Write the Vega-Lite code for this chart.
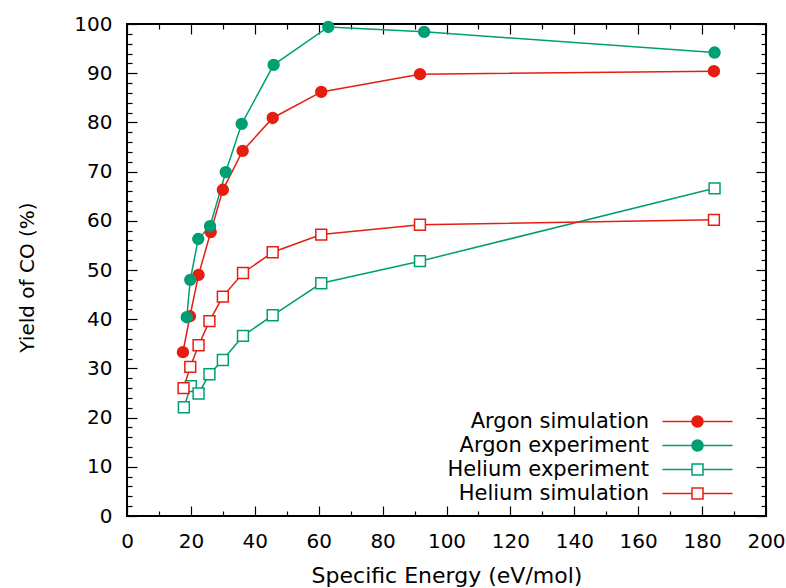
{
  "$schema": "https://vega.github.io/schema/vega-lite/v6.json",
  "width": 639,
  "height": 492,
  "autosize": "none",
  "padding": {"left": 127, "top": 24, "right": 20, "bottom": 72},
  "background": "#ffffff",
  "data": {
    "values": [
      {"series": "Argon simulation", "energy": 17.5, "yield": 33.3},
      {"series": "Argon simulation", "energy": 19.7, "yield": 40.6},
      {"series": "Argon simulation", "energy": 22.4, "yield": 49.0},
      {"series": "Argon simulation", "energy": 26.2, "yield": 57.7},
      {"series": "Argon simulation", "energy": 30.0, "yield": 66.3},
      {"series": "Argon simulation", "energy": 36.2, "yield": 74.2},
      {"series": "Argon simulation", "energy": 45.6, "yield": 80.9},
      {"series": "Argon simulation", "energy": 60.8, "yield": 86.2},
      {"series": "Argon simulation", "energy": 91.7, "yield": 89.8},
      {"series": "Argon simulation", "energy": 183.7, "yield": 90.4},
      {"series": "Argon experiment", "energy": 18.7, "yield": 40.4},
      {"series": "Argon experiment", "energy": 19.8, "yield": 48.0},
      {"series": "Argon experiment", "energy": 22.3, "yield": 56.3},
      {"series": "Argon experiment", "energy": 26.0, "yield": 58.9},
      {"series": "Argon experiment", "energy": 30.9, "yield": 69.9},
      {"series": "Argon experiment", "energy": 35.9, "yield": 79.7},
      {"series": "Argon experiment", "energy": 45.9, "yield": 91.7},
      {"series": "Argon experiment", "energy": 63.0, "yield": 99.4},
      {"series": "Argon experiment", "energy": 93.0, "yield": 98.4},
      {"series": "Argon experiment", "energy": 183.9, "yield": 94.2},
      {"series": "Helium experiment", "energy": 17.8, "yield": 22.1},
      {"series": "Helium experiment", "energy": 20.0, "yield": 26.4},
      {"series": "Helium experiment", "energy": 22.4, "yield": 24.9},
      {"series": "Helium experiment", "energy": 25.8, "yield": 28.8},
      {"series": "Helium experiment", "energy": 30.0, "yield": 31.7},
      {"series": "Helium experiment", "energy": 36.3, "yield": 36.6},
      {"series": "Helium experiment", "energy": 45.6, "yield": 40.8},
      {"series": "Helium experiment", "energy": 60.8, "yield": 47.3},
      {"series": "Helium experiment", "energy": 91.7, "yield": 51.8},
      {"series": "Helium experiment", "energy": 183.9, "yield": 66.6},
      {"series": "Helium simulation", "energy": 17.7, "yield": 26.0},
      {"series": "Helium simulation", "energy": 19.8, "yield": 30.3},
      {"series": "Helium simulation", "energy": 22.4, "yield": 34.7},
      {"series": "Helium simulation", "energy": 25.8, "yield": 39.6},
      {"series": "Helium simulation", "energy": 30.0, "yield": 44.6},
      {"series": "Helium simulation", "energy": 36.3, "yield": 49.4},
      {"series": "Helium simulation", "energy": 45.6, "yield": 53.6},
      {"series": "Helium simulation", "energy": 60.8, "yield": 57.2},
      {"series": "Helium simulation", "energy": 91.7, "yield": 59.2},
      {"series": "Helium simulation", "energy": 183.7, "yield": 60.2}
    ]
  },
  "config": {
    "font": "DejaVu Sans",
    "view": {"stroke": "#000000", "strokeWidth": 2},
    "axis": {
      "domain": false,
      "grid": false,
      "tickColor": "#000000",
      "tickWidth": 1.2,
      "labelFont": "DejaVu Sans",
      "labelFontSize": 20,
      "labelColor": "#000000",
      "labelOverlap": false,
      "labelFlush": false,
      "titleFont": "DejaVu Sans",
      "titleFontWeight": "normal",
      "titleFontSize": 21,
      "titleColor": "#000000"
    },
    "legend": {
      "orient": "none",
      "legendX": 560,
      "legendY": 387,
      "padding": 0,
      "labelFont": "DejaVu Sans",
      "labelFontSize": 21,
      "labelColor": "#000000",
      "labelAlign": "right",
      "labelOffset": -59,
      "labelLimit": 400,
      "symbolSize": 100,
      "symbolStrokeWidth": 1.5,
      "symbolOpacity": 1,
      "rowPadding": 2
    }
  },
  "resolve": {
    "axis": {"x": "independent", "y": "independent"},
    "scale": {"shape": "independent"},
    "legend": {"shape": "independent", "fill": "independent", "stroke": "independent"}
  },
  "layer": [
    {
      "mark": {"type": "line", "strokeWidth": 1.5},
      "encoding": {
        "x": {
          "field": "energy",
          "type": "quantitative",
          "scale": {"domain": [0, 200], "nice": false, "zero": false},
          "axis": {
            "orient": "bottom",
            "values": [0, 10, 20, 30, 40, 50, 60, 70, 80, 90, 100, 110, 120, 130, 140, 150, 160, 170, 180, 190, 200],
            "tickSize": {"condition": {"test": "datum.value % 20 === 0", "value": -10}, "value": -5},
            "labelExpr": "datum.value % 20 === 0 ? datum.label : ''",
            "labelBaseline": "alphabetic",
            "labelPadding": 41,
            "title": "Specific Energy (eV/mol)",
            "titleFontSize": 22,
            "titleBaseline": "alphabetic",
            "titleY": 66
          }
        },
        "y": {
          "field": "yield",
          "type": "quantitative",
          "scale": {"domain": [0, 100], "nice": false},
          "axis": {
            "orient": "left",
            "values": [0, 2, 4, 6, 8, 10, 12, 14, 16, 18, 20, 22, 24, 26, 28, 30, 32, 34, 36, 38, 40, 42, 44, 46, 48, 50, 52, 54, 56, 58, 60, 62, 64, 66, 68, 70, 72, 74, 76, 78, 80, 82, 84, 86, 88, 90, 92, 94, 96, 98, 100],
            "tickSize": {"condition": {"test": "datum.value % 10 === 0", "value": -10}, "value": -5},
            "labelExpr": "datum.value % 10 === 0 ? datum.label : ''",
            "labelPadding": 25,
            "title": "Yield of CO (%)",
            "titleFontSize": 20,
            "titleAngle": 270,
            "titleBaseline": "alphabetic",
            "titleX": -94,
            "titleY": 253
          }
        },
        "stroke": {
          "field": "series",
          "type": "nominal",
          "scale": {
            "domain": ["Argon simulation", "Argon experiment", "Helium experiment", "Helium simulation"],
            "range": ["#e51e10", "#009e73", "#009e73", "#e51e10"]
          },
          "legend": null
        }
      }
    },
    {
      "mark": {"type": "point", "strokeWidth": 1.5, "opacity": 1, "size": 118},
      "encoding": {
        "x": {
          "field": "energy",
          "type": "quantitative",
          "axis": {
            "orient": "top",
            "values": [0, 10, 20, 30, 40, 50, 60, 70, 80, 90, 100, 110, 120, 130, 140, 150, 160, 170, 180, 190, 200],
            "tickSize": {"condition": {"test": "datum.value % 20 === 0", "value": -10}, "value": -5},
            "labels": false,
            "title": null
          }
        },
        "y": {
          "field": "yield",
          "type": "quantitative",
          "axis": {
            "orient": "right",
            "values": [0, 2, 4, 6, 8, 10, 12, 14, 16, 18, 20, 22, 24, 26, 28, 30, 32, 34, 36, 38, 40, 42, 44, 46, 48, 50, 52, 54, 56, 58, 60, 62, 64, 66, 68, 70, 72, 74, 76, 78, 80, 82, 84, 86, 88, 90, 92, 94, 96, 98, 100],
            "tickSize": {"condition": {"test": "datum.value % 10 === 0", "value": -10}, "value": -5},
            "labels": false,
            "title": null
          }
        },
        "shape": {
          "field": "series",
          "type": "nominal",
          "scale": {
            "domain": ["Argon simulation", "Argon experiment", "Helium experiment", "Helium simulation"],
            "range": ["circle", "circle", "square", "square"]
          },
          "legend": null
        },
        "fill": {
          "field": "series",
          "type": "nominal",
          "scale": {
            "domain": ["Argon simulation", "Argon experiment", "Helium experiment", "Helium simulation"],
            "range": ["#e51e10", "#009e73", "#ffffff", "#ffffff"]
          },
          "legend": null
        },
        "stroke": {
          "field": "series",
          "type": "nominal",
          "scale": {
            "domain": ["Argon simulation", "Argon experiment", "Helium experiment", "Helium simulation"],
            "range": ["#e51e10", "#009e73", "#009e73", "#e51e10"]
          },
          "legend": null
        }
      }
    },
    {
      "mark": {"type": "point", "strokeWidth": 1.5, "opacity": 0},
      "encoding": {
        "x": {"field": "energy", "type": "quantitative", "axis": null},
        "y": {"field": "yield", "type": "quantitative", "axis": null},
        "shape": {
          "field": "series",
          "type": "nominal",
          "scale": {
            "domain": ["Argon simulation", "Argon experiment", "Helium experiment", "Helium simulation"],
            "range": [
              "M-7,0H7M1.1,0A1.1,1.1,0,1,1,-1.1,0A1.1,1.1,0,1,1,1.1,0Z",
              "M-7,0H7M1.1,0A1.1,1.1,0,1,1,-1.1,0A1.1,1.1,0,1,1,1.1,0Z",
              "M-7,0H-1.1M1.1,0H7M-1.1,-1.1H1.1V1.1H-1.1Z",
              "M-7,0H-1.1M1.1,0H7M-1.1,-1.1H1.1V1.1H-1.1Z"
            ]
          },
          "legend": {"title": null}
        },
        "fill": {
          "field": "series",
          "type": "nominal",
          "scale": {
            "domain": ["Argon simulation", "Argon experiment", "Helium experiment", "Helium simulation"],
            "range": ["#e51e10", "#009e73", "#ffffff", "#ffffff"]
          },
          "legend": {"title": null}
        },
        "stroke": {
          "field": "series",
          "type": "nominal",
          "scale": {
            "domain": ["Argon simulation", "Argon experiment", "Helium experiment", "Helium simulation"],
            "range": ["#e51e10", "#009e73", "#009e73", "#e51e10"]
          },
          "legend": {"title": null}
        }
      }
    }
  ]
}
